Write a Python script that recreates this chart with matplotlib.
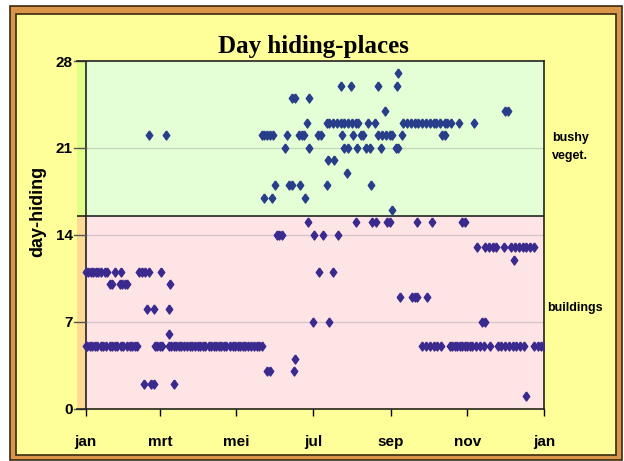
import matplotlib.pyplot as plt
from matplotlib.patches import Rectangle

# day of year per day-hiding value
bushy_days = {
    27: [249],
    26: [203, 211, 233, 248],
    25: [164, 167, 178],
    24: [238, 334, 336],
    23: [176, 192, 194, 197, 200, 203, 206, 209, 212, 215, 217, 225, 230,
         253, 256, 259, 262, 265, 268, 271, 274, 277, 279, 282, 286, 288,
         291, 297, 309],
    22: [50, 64, 140, 142, 144, 147, 149, 160, 170, 172, 174, 185, 187, 204,
         213, 219, 221, 233, 236, 239, 242, 244, 252, 284, 286],
    21: [159, 178, 206, 209, 216, 223, 226, 235, 247, 249],
    20: [193, 198],
    19: [208],
    18: [151, 162, 164, 171, 192, 227],
    17: [142, 148, 175],
    16: [244],
}
building_days = {
    15: [177, 215, 228, 231, 240, 242, 264, 276, 300, 302],
    14: [152, 154, 156, 182, 189, 201],
    13: [312, 318, 321, 324, 327, 333, 339, 342, 345, 348, 351, 354, 357],
    12: [341],
    11: [0, 2, 4, 6, 8, 10, 12, 15, 17, 23, 28, 42, 45, 47, 50, 60, 186, 197],
    10: [19, 21, 27, 29, 31, 33, 67],
    9: [250, 260, 262, 264, 272],
    8: [49, 54, 66],
    7: [181, 194, 316, 318],
    6: [66],
    5: [0, 1, 3, 5, 7, 9, 12, 14, 16, 19, 21, 23, 25, 28, 30, 33, 35, 37,
        39, 41, 55, 57, 59, 61, 66, 68, 70, 72, 74, 76, 78, 81, 83, 85, 87,
        89, 91, 93, 95, 98, 100, 102, 104, 106, 108, 110, 112, 115, 117,
        119, 121, 123, 125, 127, 129, 132, 134, 136, 138, 140,
        268, 271, 274, 277, 280, 283, 290, 292, 294, 296, 298, 300, 302,
        304, 306, 308, 311, 314, 317, 322, 328, 331, 334, 337, 340, 343,
        346, 349, 357, 360, 363, 365],
    4: [167],
    3: [144, 147, 166],
    2: [46, 52, 54, 70],
    1: [351],
}
month_ticks = [0, 59, 120, 181, 243, 304, 365]
month_labels = ['jan', 'mrt', 'mei', 'jul', 'sep', 'nov', 'jan']
y_ticks = [0, 7, 14, 21, 28]
split = 15.5

lab_font = ['Liberation Sans Narrow', 'Liberation Sans', 'DejaVu Sans']
sans = ['Liberation Sans', 'DejaVu Sans']
diamond = [(0, 1), (0.72, 0), (0, -1), (-0.72, 0), (0, 1)]

fig = plt.figure(figsize=(6.24, 4.61), dpi=100)
fig.patch.set_facecolor('white')

# frame
W, H = 624, 461
fig.patches.append(Rectangle((10 / W, 1 - 460 / H), 612 / W, 454 / H,
                             transform=fig.transFigure, facecolor='#D9964A',
                             edgecolor='#3a2a10', lw=1.2, zorder=-2))
fig.patches.append(Rectangle((16 / W, 1 - 455 / H), 600 / W, 441 / H,
                             transform=fig.transFigure, facecolor='#FFFF99',
                             edgecolor='#3a2a10', lw=1.2, zorder=-1))

ax = fig.add_axes([77 / W, 52.5 / H, 467 / W, 347.5 / H])
ax.set_zorder(2)
ax.set_xlim(-7, 365)
ax.set_ylim(0, 28)
ax.patch.set_alpha(0)

ax.fill_between([0, 365], split, 28, color='#E4FFD6', zorder=0, lw=0)
ax.fill_between([0, 365], 0, split, color='#FFE4E6', zorder=0, lw=0)
ax.fill_between([-7, 0], split, 28, color='#E2FF88', zorder=0.5, lw=0)
ax.fill_between([-7, 0], 0, split, color='#FFDA96', zorder=0.5, lw=0)
ax.axhline(split, color='#222222', lw=1.2, zorder=1)
ax.axvline(0, color='#222222', lw=1.2, zorder=1)

for t in y_ticks[1:-1]:
    ax.plot([0, 365], [t, t], color='#808080', alpha=0.3, lw=1, zorder=1)

for v, days in bushy_days.items():
    ax.plot(days, [v] * len(days), linestyle='none', marker=diamond,
            markersize=6.5, color='#283E8A', zorder=3)
for v, days in building_days.items():
    ax.plot(days, [v] * len(days), linestyle='none', marker=diamond,
            markersize=6.5, color='#3A2A8E', zorder=3)

for s in ['top', 'right', 'bottom']:
    ax.spines[s].set_color('#222222')
    ax.spines[s].set_linewidth(1.2)
ax.spines['left'].set_visible(False)

ax.set_xticks(month_ticks)
ax.set_xticklabels(month_labels, family=lab_font, fontweight='bold', fontsize=11)
ax.set_yticks(y_ticks)
ax.set_yticklabels([str(t) for t in y_ticks], family=lab_font,
                   fontweight='bold', fontsize=11)
ax.tick_params(axis='x', length=5, width=1, pad=14, direction='out')
ax.tick_params(axis='y', length=0, pad=3)
for t in y_ticks:
    ax.plot([-9, 0], [t, t], color='#555555', lw=1, clip_on=False, zorder=2)

fig.text(313 / W, 1 - 46 / H, 'Day hiding-places', ha='center', va='center',
         family=['Liberation Serif', 'DejaVu Serif'], fontweight='bold',
         fontsize=18)
fig.text(38 / W, 1 - 211 / H, 'day-hiding', rotation=90, ha='center',
         va='center', family=sans, fontweight='bold', fontsize=13)
fig.text(552 / W, 1 - 147 / H, 'bushy\nveget.', ha='left', va='center',
         family=sans, fontweight='bold', fontsize=9, linespacing=1.6)
fig.text(547 / W, 1 - 308 / H, 'buildings', ha='left', va='center',
         family=sans, fontweight='bold', fontsize=9)

fig.savefig('out.png', dpi=100)
